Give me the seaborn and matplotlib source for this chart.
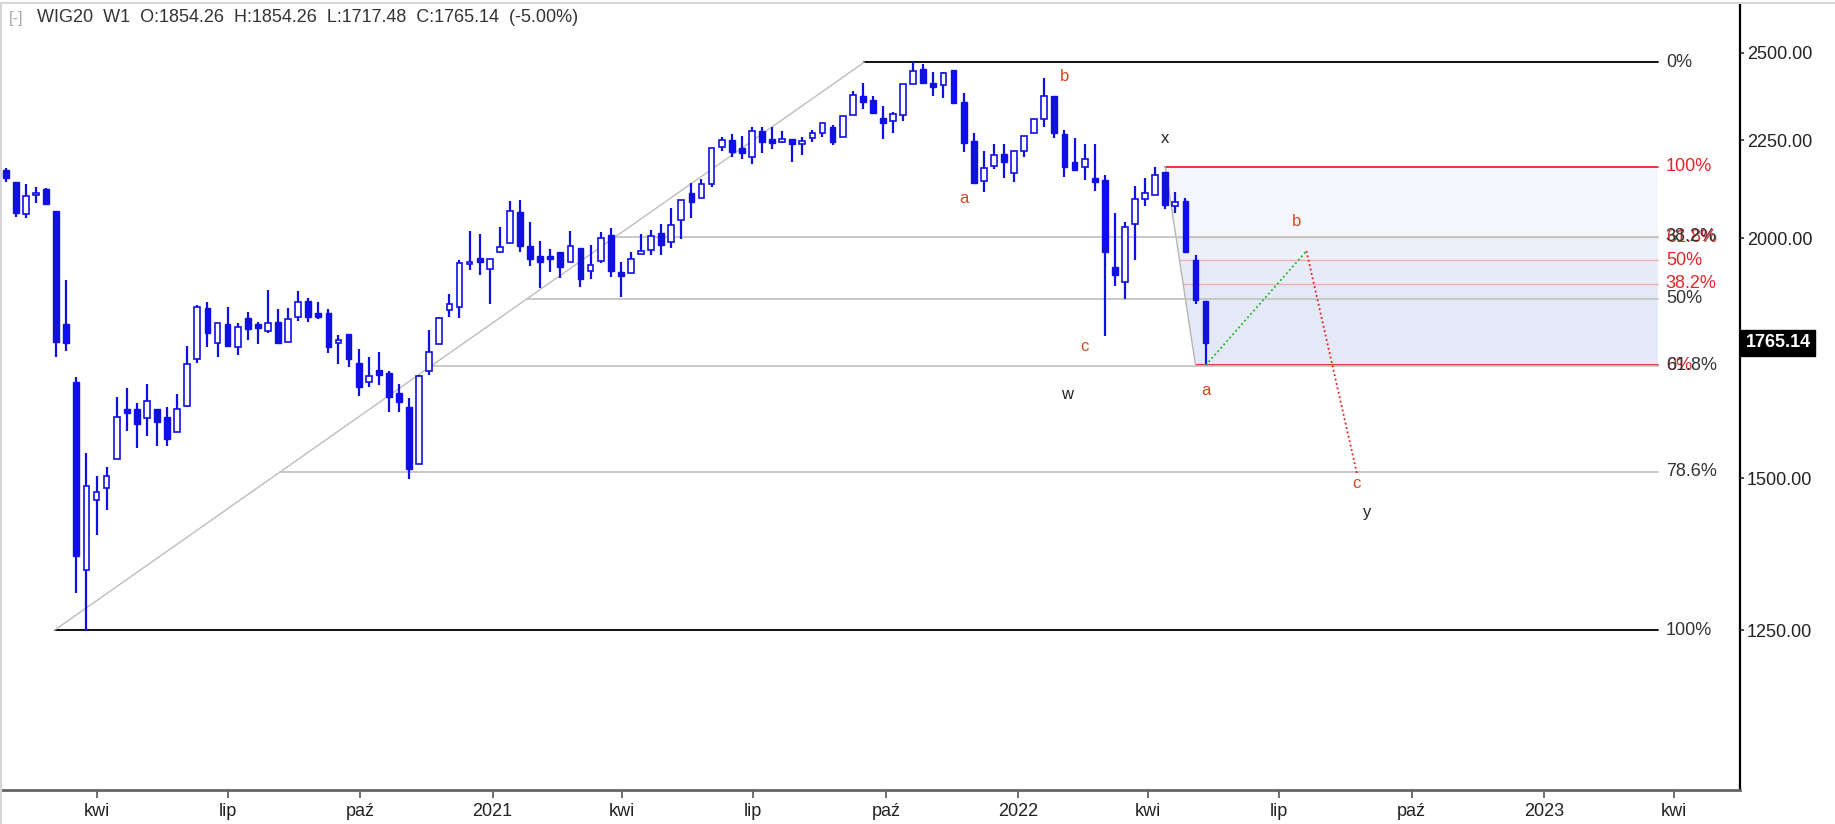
import numpy as np
import pandas as pd
import matplotlib
matplotlib.use("Agg")
import matplotlib.pyplot as plt
import matplotlib.dates as mdates
from matplotlib.lines import Line2D
from matplotlib.ticker import FixedLocator, FixedFormatter, NullLocator, FuncFormatter
import seaborn as sns

sns.set_theme(style="white")
plt.rcParams['font.family'] = ['Liberation Sans', 'DejaVu Sans']

# weekly WIG20 candles, last one = week of 2022-05-09
last_week = "2022-05-11"
opens = [2171.1, 2139.3, 2059.4, 2106.1, 2122.1, 2067.6, 1804.6, 1682.7, 1343.2, 1461.0,
         1481.6, 1534.0, 1628.9, 1628.9, 1612.6, 1628.9, 1613.4, 1585.8, 1635.4, 1730.3,
         1840.2, 1764.6, 1803.9, 1756.1, 1817.0, 1804.6, 1790.2, 1809.6, 1766.7, 1820.5,
         1855.2, 1827.9, 1829.3, 1764.6, 1782.5, 1721.5, 1683.9, 1707.7, 1700.9, 1661.8,
         1634.0, 1525.4, 1705.6, 1761.8, 1835.2, 1842.5, 1939.4, 1952.6, 1927.0, 1966.8,
         1989.6, 2063.6, 1982.4, 1958.1, 1958.1, 1966.8, 1944.8, 1976.2, 1923.9, 1946.4,
         2008.1, 1920.2, 1917.9, 1962.8, 1972.3, 2013.7, 1990.6, 2044.6, 2111.2, 2098.6,
         2134.9, 2232.6, 2250.7, 2228.5, 2204.5, 2276.0, 2252.6, 2246.1, 2252.6, 2239.1,
         2256.9, 2268.9, 2285.2, 2259.6, 2319.2, 2372.7, 2361.4, 2311.8, 2302.6, 2319.2,
         2407.2, 2450.9, 2411.0, 2404.3, 2446.7, 2354.9, 2248.0, 2143.4, 2181.5, 2214.5,
         2164.1, 2222.0, 2268.9, 2307.3, 2371.6, 2266.2, 2191.2, 2178.0, 2149.6, 2145.2,
         1933.1, 1897.3, 2034.1, 2096.0, 2107.0, 2165.2, 2079.3, 2092.6, 1948.8, 1854.26]
highs = [2175.5, 2139.3, 2134.9, 2128.0, 2123.9, 2067.6, 1902.5, 1694.0, 1546.3, 1504.1,
         1520.5, 1652.6, 1670.5, 1640.8, 1678.6, 1628.9, 1632.8, 1658.6, 1758.2, 1846.3,
         1853.6, 1807.4, 1842.5, 1807.4, 1830.1, 1809.6, 1879.8, 1836.7, 1838.9, 1877.5,
         1862.4, 1853.6, 1836.7, 1781.0, 1782.5, 1750.7, 1733.9, 1745.6, 1706.3, 1678.6,
         1650.7, 1697.5, 1791.7, 1819.1, 1870.1, 1948.8, 2018.5, 2009.8, 1951.1, 2028.2,
         2091.8, 2094.3, 2040.4, 1993.7, 1974.7, 1966.8, 2018.5, 1976.2, 1984.1, 2014.6,
         2025.8, 1944.8, 1966.8, 2009.8, 2020.2, 2034.1, 2075.0, 2094.3, 2136.7, 2147.0,
         2229.9, 2259.6, 2266.2, 2261.5, 2285.2, 2285.2, 2285.2, 2275.2, 2252.6, 2259.6,
         2277.9, 2296.3, 2291.5, 2317.2, 2387.0, 2409.2, 2373.6, 2345.6, 2327.0, 2407.2,
         2472.6, 2465.7, 2442.0, 2442.9, 2446.7, 2380.4, 2270.5, 2222.0, 2239.1, 2239.1,
         2221.2, 2261.5, 2307.3, 2423.6, 2373.6, 2277.9, 2256.9, 2239.1, 2239.1, 2158.1,
         2062.6, 2040.4, 2130.6, 2149.6, 2180.0, 2165.2, 2113.8, 2098.6, 1960.5, 1854.26]
lows = [2139.3, 2051.2, 2048.8, 2086.0, 2082.5, 1735.1, 1747.7, 1306.1, 1248.7, 1400.9,
        1443.5, 1534.0, 1587.7, 1554.5, 1578.2, 1559.4, 1559.4, 1585.8, 1632.8, 1721.5,
        1754.8, 1735.1, 1756.1, 1738.7, 1770.3, 1761.8, 1785.9, 1761.8, 1766.7, 1811.8,
        1809.6, 1814.7, 1743.5, 1720.0, 1713.2, 1655.8, 1673.8, 1677.2, 1623.1, 1624.3,
        1497.6, 1525.4, 1697.5, 1761.8, 1820.5, 1817.0, 1925.5, 1914.0, 1848.5, 1966.8,
        1989.6, 1968.3, 1934.8, 1883.6, 1921.6, 1907.7, 1944.8, 1885.9, 1904.0, 1942.5,
        1910.0, 1864.7, 1917.9, 1962.8, 1960.5, 1960.5, 1976.2, 1997.8, 2048.8, 2098.6,
        2126.5, 2222.0, 2206.0, 2200.0, 2185.9, 2215.1, 2225.8, 2243.4, 2192.8, 2210.5,
        2246.1, 2258.0, 2237.3, 2259.6, 2319.2, 2335.2, 2322.0, 2253.4, 2268.9, 2303.5,
        2407.2, 2409.2, 2372.7, 2366.3, 2352.0, 2219.4, 2134.9, 2115.3, 2172.9, 2151.1,
        2140.8, 2206.0, 2268.9, 2285.2, 2255.3, 2152.1, 2171.1, 2145.2, 2117.1, 1778.8,
        1888.9, 1859.0, 1948.8, 2080.0, 2107.0, 2071.0, 2062.6, 1968.3, 1848.5, 1717.48]
closes = [2149.6, 2062.6, 2105.1, 2112.7, 2084.3, 1766.7, 1763.3, 1366.0, 1485.7, 1474.5,
          1504.1, 1613.4, 1622.3, 1599.9, 1645.9, 1604.9, 1571.3, 1628.9, 1719.4, 1841.1,
          1785.9, 1806.1, 1757.6, 1798.7, 1793.9, 1795.2, 1806.1, 1764.6, 1814.7, 1853.6,
          1820.5, 1820.5, 1756.1, 1770.3, 1729.7, 1673.8, 1695.4, 1697.5, 1652.6, 1642.7,
          1515.7, 1695.4, 1745.6, 1817.0, 1848.5, 1942.5, 1944.8, 1944.8, 1951.1, 1979.3,
          2066.8, 1981.7, 1951.1, 1944.8, 1951.1, 1933.1, 1981.7, 1904.0, 1937.1, 2001.6,
          1923.2, 1912.3, 1951.1, 1969.9, 2006.4, 1984.1, 2032.4, 2094.3, 2088.5, 2134.9,
          2229.9, 2250.7, 2219.4, 2215.1, 2276.0, 2246.1, 2243.4, 2254.2, 2239.1, 2248.0,
          2268.9, 2296.3, 2246.1, 2317.2, 2375.6, 2356.6, 2325.6, 2296.3, 2322.0, 2407.2,
          2445.9, 2411.0, 2399.5, 2440.0, 2352.0, 2243.4, 2136.7, 2175.5, 2210.8, 2191.2,
          2221.2, 2261.5, 2307.3, 2373.6, 2270.5, 2179.7, 2171.1, 2199.2, 2140.8, 1968.3,
          1914.0, 2028.2, 2096.0, 2111.2, 2158.1, 2081.8, 2088.5, 1968.3, 1858.0, 1765.14]

# fibonacci retracement (black): March 2020 low -> Sept 2021 high
black_dates = ["2020-03-03", "2021-09-16"]
black_prices = [1250.0, 2471.0]
black_levels = [0.0, 0.382, 0.5, 0.618, 0.786, 1.0]
black_names = ["0%", "38.2%", "50%", "61.8%", "78.6%", "100%"]

# fibonacci retracement (red): April 2022 high -> May 2022 low
red_dates = ["2022-04-13", "2022-05-04"]
red_prices = [2180.0, 1717.48]
red_levels = [1.0, 0.618, 0.5, 0.382, 0.0]
red_names = ["100%", "61.8%", "50%", "38.2%", "0%"]
fib_end = "2023-03-21"

# projected path a -> b -> c
proj_dates = ["2022-05-11", "2022-07-20", "2022-08-24"]
proj_prices = [1717.48, 1970.0, 1509.0]

# wave labels
wave_text = ["a", "b", "c", "x", "w", "a", "b", "c", "y"]
wave_dates = ["2021-11-24", "2022-02-02", "2022-02-16", "2022-04-13", "2022-02-04",
              "2022-05-11", "2022-07-13", "2022-08-24", "2022-08-31"]
wave_prices = [2099, 2430, 1756, 2254, 1659, 1667, 2042, 1491, 1440]
wave_red = [True, True, True, False, False, True, True, True, False]

month_names = {4: "kwi", 7: "lip", 10: "paź"}
y_ticks = [1250, 1500, 2000, 2250, 2500]
last_price = 1765.14

blue = "#1010e6"
fib_red = "#e3262a"
wave_col = "#cc4a1f"

x = mdates.date2num(pd.date_range(end=last_week, periods=len(opens), freq="7D"))
o, h, l, c = map(np.array, (opens, highs, lows, closes))
up = c >= o

fig = plt.figure(figsize=(18.35, 8.24), dpi=100)
fig.patch.set_facecolor("white")
ax = fig.add_axes([0.0, 34 / 824, 1740 / 1835, 786 / 824])
ax.set_facecolor("white")
ax.set_yscale("log")
ax.set_ylim(1031.6, 2650)
ax.set_xlim(mdates.datestr2num("2020-01-25"), mdates.datestr2num("2023-05-17"))


def start_on_diag(p, p0, p1, x0, x1):
    t = (np.log(p) - np.log(p0)) / (np.log(p1) - np.log(p0))
    return x0 + t * (x1 - x0)


xe = mdates.datestr2num(fib_end)
xlab = xe + 5.5

# red fib: shaded bands, lines and labels
rx0, rx1 = mdates.datestr2num(red_dates)
rhi, rlo = red_prices
red_p = [rlo + r * (rhi - rlo) for r in red_levels]
band_cols = ["#f4f6fc", "#ebf0fa", "#e7ecf8", "#e3e9f7"]
for i in range(len(red_p) - 1):
    pa, pb = red_p[i], red_p[i + 1]
    xa = start_on_diag(pa, rhi, rlo, rx0, rx1)
    xb = start_on_diag(pb, rhi, rlo, rx0, rx1)
    ax.fill([xa, xe, xe, xb], [pa, pa, pb, pb], color=band_cols[i], lw=0, zorder=1)
for r, p, name in zip(red_levels, red_p, red_names):
    xs = start_on_diag(p, rhi, rlo, rx0, rx1)
    main = r in (0.0, 1.0)
    ax.plot([xs, xe], [p, p], color=fib_red if main else "#f0b0b0",
            lw=1.3 if main else 1.0, zorder=2)
    ax.text(xlab, p, name, color=fib_red, fontsize=13, va="center", ha="left", zorder=5)
ax.plot([rx0, rx1], [rhi, rlo], color="#b5b5b5", lw=1.0, zorder=2)

# black fib
bx0, bx1 = mdates.datestr2num(black_dates)
blo, bhi = black_prices
for r, name in zip(black_levels, black_names):
    p = bhi - r * (bhi - blo)
    xs = start_on_diag(p, blo, bhi, bx0, bx1)
    main = r in (0.0, 1.0)
    ax.plot([xs, xe], [p, p], color="#111111" if main else "#c4c4c4",
            lw=1.4 if main else 1.3, zorder=2)
    ax.text(xlab, p, name, color="#333333", fontsize=13, va="center", ha="left", zorder=5)
ax.plot([bx0, bx1], [blo, bhi], color="#bdbdbd", lw=1.0, zorder=2)

# candles
ax.vlines(x, l, h, color=blue, lw=1.6, zorder=3)
body_lo = np.minimum(o, c)
body_h = np.maximum(np.abs(c - o), o * 0.0012)
ax.bar(x[up], body_h[up], bottom=body_lo[up], width=4.0, facecolor="white",
       edgecolor=blue, lw=1.2, zorder=4)
ax.bar(x[~up], body_h[~up], bottom=body_lo[~up], width=4.0, facecolor=blue,
       edgecolor=blue, lw=1.0, zorder=4)

# projection
px = mdates.datestr2num(proj_dates)
sns.lineplot(x=px[:2], y=proj_prices[:2], ax=ax, color="#22b322", lw=1.3,
             linestyle=(0, (1, 1.5)), sort=False, zorder=5)
sns.lineplot(x=px[1:], y=proj_prices[1:], ax=ax, color="#e02020", lw=1.3,
             linestyle=(0, (1, 1.5)), sort=False, zorder=5)

# wave labels
for t, d, p, red in zip(wave_text, wave_dates, wave_prices, wave_red):
    ax.text(mdates.datestr2num(d), p, t, color=wave_col if red else "#222222",
            fontsize=12, ha="center", va="center", zorder=6)

# axes styling
ax.xaxis.set_major_locator(mdates.MonthLocator(bymonth=[1, 4, 7, 10]))
ax.xaxis.set_major_formatter(FuncFormatter(
    lambda v, pos: str(mdates.num2date(v).year) if mdates.num2date(v).month == 1
    else month_names[mdates.num2date(v).month]))
ax.yaxis.set_major_locator(FixedLocator(y_ticks))
ax.yaxis.set_major_formatter(FixedFormatter([f"{v:.2f}" for v in y_ticks]))
ax.yaxis.set_minor_locator(NullLocator())
ax.tick_params(axis="x", bottom=True, direction="out", length=6, width=1.2,
               color="#555555", pad=3, labelsize=13, labelcolor="#222222")
ax.tick_params(axis="y", which="major", left=False, right=True, labelleft=False,
               labelright=True, direction="out", length=3, width=1.2,
               color="#333333", pad=2, labelsize=13, labelcolor="#222222")
ax.set_xlabel("")
ax.set_ylabel("")
for s in ("left", "top"):
    ax.spines[s].set_visible(False)
ax.spines["right"].set_color("black")
ax.spines["right"].set_linewidth(1.6)
ax.spines["bottom"].set_color("#666666")
ax.spines["bottom"].set_linewidth(2.0)

# last price tag
ax.annotate(f"{last_price:.2f}", xy=(1.0, last_price), xycoords=ax.get_yaxis_transform(),
            xytext=(4, 0), textcoords="offset points", ha="left", va="center",
            fontsize=13, fontweight="bold", color="white",
            bbox=dict(boxstyle="square,pad=0.25", fc="black", ec="black"),
            annotation_clip=False)

# frame and header
fig.add_artist(Line2D([0.0008, 0.0008], [0, 0.9964], transform=fig.transFigure,
                      color="#d6d6d6", lw=1.5))
fig.add_artist(Line2D([0, 1], [0.9964, 0.9964], transform=fig.transFigure,
                      color="#d6d6d6", lw=1.5))
fig.text(9 / 1835, 1 - 18 / 824, "[-]", color="#a8a8a8", fontsize=12, va="center")
fig.text(37 / 1835, 1 - 18 / 824,
         "WIG20  W1  O:1854.26  H:1854.26  L:1717.48  C:1765.14  (-5.00%)",
         color="#333333", fontsize=13, va="center")

fig.savefig("out.png", dpi=100, facecolor="white")
